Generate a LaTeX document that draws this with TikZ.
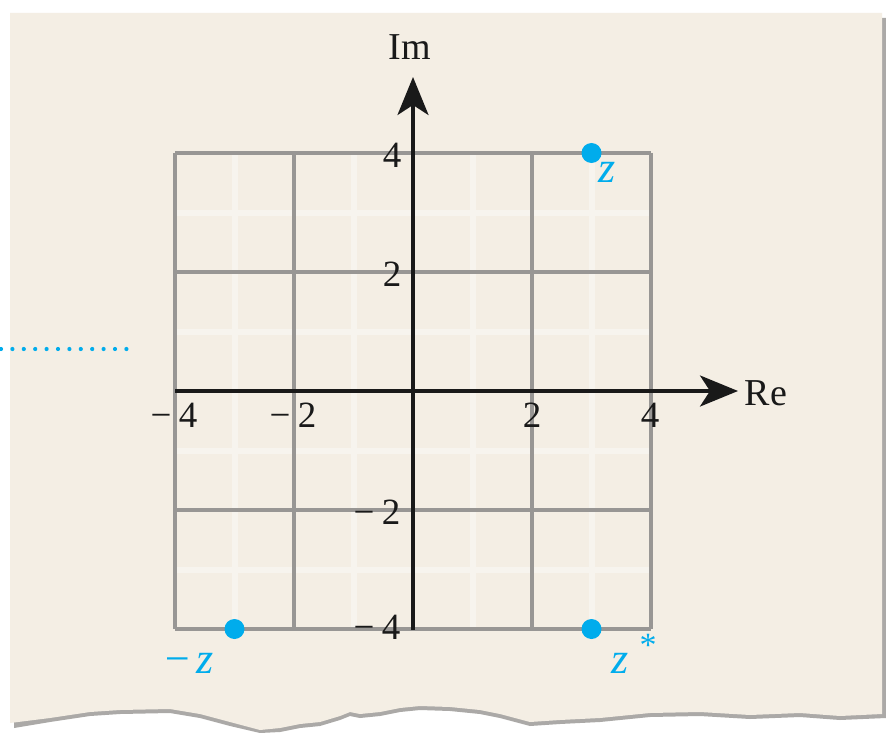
\documentclass[tikz,border=0pt]{standalone}
\usepackage{fontspec}
\setmainfont{Liberation Serif}
\usetikzlibrary{arrows.meta}
\definecolor{paper}{RGB}{244,238,228}
\definecolor{gridgray}{RGB}{152,150,148}
\definecolor{minorline}{RGB}{247,244,238}
\definecolor{zblue}{RGB}{0,172,236}
\definecolor{shadow}{RGB}{150,148,145}
\tikzset{
  majorgrid/.style={draw=gridgray, line width=3.2pt},
  minorgrid/.style={draw=minorline, line width=6pt},
  axisline/.style={draw=black!90, line width=3.4pt, -{Stealth[length=38pt,width=31pt,inset=10pt]}},
  numlabel/.style={font=\fontsize{37}{40}\selectfont, text=black!90, inner sep=0pt},
  axlabel/.style={font=\fontsize{38}{40}\selectfont, text=black!90, inner sep=0pt},
  zlabel/.style={font=\fontsize{44}{46}\selectfont\itshape, text=zblue, inner sep=0pt},
  zdot/.style={circle, fill=zblue, minimum size=20pt, inner sep=0pt},
}
\begin{document}
\begin{tikzpicture}[x=1pt,y=-1pt]
\useasboundingbox (0,0) rectangle (886,733);
\fill[white] (0,0) rectangle (886,733);
% paper shadow
\fill[shadow, opacity=0.8] (14,18) -- (886,18) -- (886,718) -- (840,720) -- (800,717) -- (750,719) -- (700,716) -- (650,717) -- (600,722) -- (560,724) -- (530,726) -- (515,722) -- (500,718) -- (480,714) -- (450,711) -- (420,710) -- (400,712) -- (380,716) -- (360,718) -- (350,716) -- (340,720) -- (320,726) -- (300,728) -- (280,732) -- (260,733) -- (230,726) -- (200,718) -- (170,713) -- (120,714) -- (90,716) -- (50,722) -- (14,728) -- cycle;
% paper
\fill[paper] (10,13) -- (882,13) -- (882,714) -- (840,716) -- (800,713) -- (750,715) -- (700,712) -- (650,713) -- (600,718) -- (560,720) -- (530,722) -- (515,718) -- (500,714) -- (480,710) -- (450,707) -- (420,706) -- (400,708) -- (380,712) -- (360,714) -- (350,712) -- (340,716) -- (320,722) -- (300,724) -- (280,728) -- (260,730) -- (230,722) -- (200,714) -- (170,709) -- (120,710) -- (90,712) -- (50,718) -- (10,723) -- cycle;
% minor grid lines (odd values)
\foreach \v in {-3,-1,1,3} {
  \path[minorgrid] (413+59.5*\v,153) -- (413+59.5*\v,629);
  \path[minorgrid] (175,391-59.5*\v) -- (651,391-59.5*\v);
}
% major grid lines
\foreach \v in {-4,-2,2,4} {
  \path[majorgrid] (413+59.5*\v,153) -- (413+59.5*\v,629);
}
\foreach \v in {-4,-2,2,4} {
  \path[majorgrid] (175,391-59.5*\v) -- (651,391-59.5*\v);
}
% axes
\coordinate (xstart) at (175,391);
\coordinate (xend) at (738,391);
\coordinate (ystart) at (413,630);
\coordinate (yend) at (413,77);
\draw[axisline] (xstart) -- (xend);
\draw[axisline] (ystart) -- (yend);
\node[axlabel] (re) at (766,393) {Re};
\node[axlabel] (im) at (410,47) {Im};
% x tick labels
\node[numlabel] (xm4) at (174,415) {−\hspace{0.2em}4};
\node[numlabel] (xm2) at (293,415) {−\hspace{0.2em}2};
\node[numlabel] (x2) at (532,415) {2};
\node[numlabel] (x4) at (650,415) {4};
% y tick labels
\node[numlabel] (y4) at (392,155) {4};
\node[numlabel] (y2) at (392,274) {2};
\node[numlabel] (ym2) at (377,512) {−\hspace{0.2em}2};
\node[numlabel] (ym4) at (377,627) {−\hspace{0.2em}4};
% points
\node[zdot] (z) at (591.5,153) {};
\node[zdot] (zc) at (591.5,629) {};
\node[zdot] (mz) at (234.5,629) {};
\node[zlabel] (zl) at (607,172) {z};
\node[zlabel] (zcl) at (620,663) {z};
\node[font=\fontsize{34}{36}\selectfont, text=zblue, inner sep=0pt] (star) at (648,645) {*};
\node[zlabel] (mzl) at (188,663) {−\hspace{0.1em}z};
% dotted leader
\coordinate (d1) at (1,349);
\coordinate (d2) at (128,349);
\draw[zblue, line width=4.2pt, line cap=round, dash pattern=on 0pt off 11.4pt] (d1) -- (d2);
\end{tikzpicture}
\end{document}
